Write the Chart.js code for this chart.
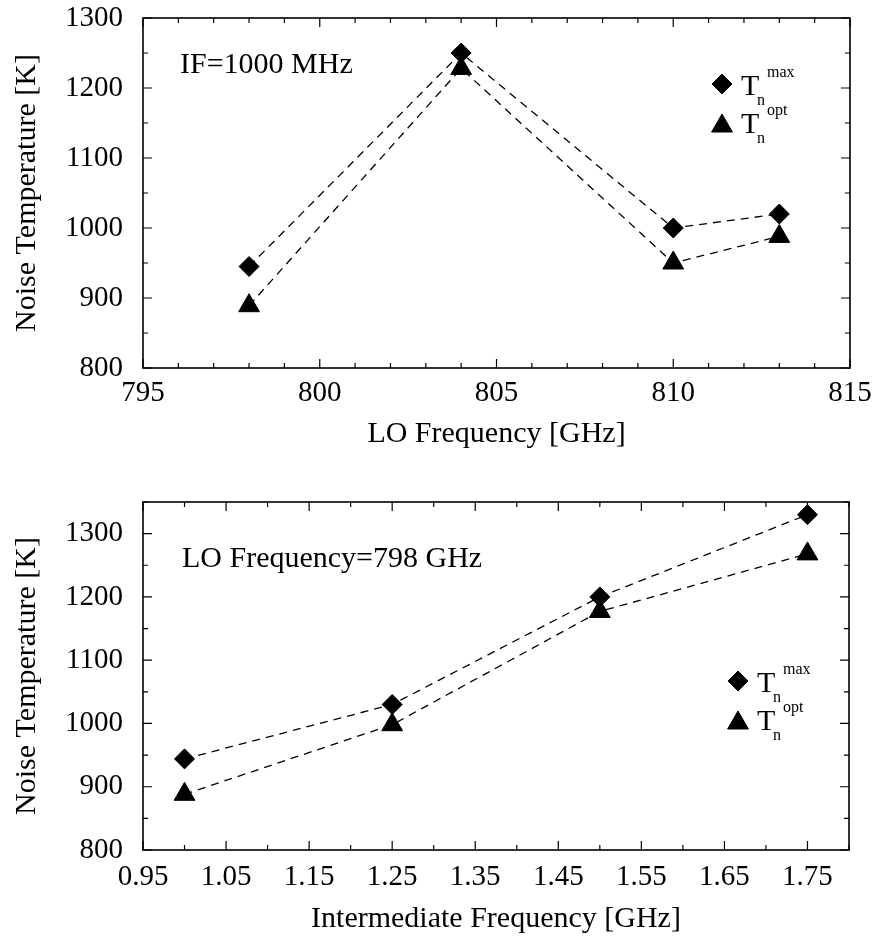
<!DOCTYPE html>
<html lang="en">
<head>
<meta charset="UTF-8">
<title>Noise Temperature vs LO and IF Frequency</title>
<script src="https://cdn.jsdelivr.net/npm/chart.js@4.4.1/dist/chart.umd.min.js"></script>
<style>
    body { margin: 0; background: #fff; }
    canvas { display: block; }
</style>
</head>
<body>
<canvas id="loChart" width="877" height="470"></canvas>
<canvas id="ifChart" width="877" height="468"></canvas>
<script>
// top plot: LO sweep at IF = 1000 MHz
const loFreq = [798, 804, 810, 813];
const loTmax = [945, 1250, 1000, 1020];
const loTopt = [889, 1228, 950, 988];

// bottom plot: IF sweep at LO = 798 GHz
const ifFreq = [1.00, 1.25, 1.50, 1.75];
const ifTmax = [944, 1030, 1200, 1330];
const ifTopt = [888, 998, 1177, 1268];

// tick labels
const loTicks = [795, 800, 805, 810, 815];
const ifTicks = [0.95, 1.05, 1.15, 1.25, 1.35, 1.45, 1.55, 1.65, 1.75];
const tempTicks = [800, 900, 1000, 1100, 1200, 1300];

const legendSup = ['max', 'opt'];

const serif = "'Liberation Serif', 'Times New Roman', serif";

// box round the plot area, inward ticks on all four sides
const framePlugin = {
    id: 'frame',
    beforeDatasetsDraw(chart, args, o) {
        const { ctx, chartArea: a, scales: { x, y } } = chart;
        ctx.save();
        ctx.strokeStyle = '#000';
        ctx.lineWidth = 1.2;
        ctx.beginPath();
        for (let i = 0; x.min + i * o.xStep <= x.max + 1e-9; i++) {
            const px = x.getPixelForValue(x.min + i * o.xStep);
            const len = i % o.xEvery === 0 ? 9 : 5;
            ctx.moveTo(px, a.bottom); ctx.lineTo(px, a.bottom - len);
            ctx.moveTo(px, a.top); ctx.lineTo(px, a.top + len);
        }
        for (let i = 0; y.min + i * o.yStep <= y.max + 1e-9; i++) {
            const py = y.getPixelForValue(y.min + i * o.yStep);
            const len = i % o.yEvery === 0 ? 9 : 5;
            ctx.moveTo(a.left, py); ctx.lineTo(a.left + len, py);
            ctx.moveTo(a.right, py); ctx.lineTo(a.right - len, py);
        }
        ctx.stroke();
        ctx.lineWidth = 1.6;
        ctx.strokeRect(a.left, a.top, a.right - a.left, a.bottom - a.top);
        ctx.restore();
    }
};

// note text and the legend with sub/superscripts
const notePlugin = {
    id: 'note',
    afterDraw(chart, args, o) {
        const ctx = chart.ctx;
        ctx.save();
        ctx.fillStyle = '#000';
        ctx.strokeStyle = '#000';
        ctx.textAlign = 'left';
        ctx.textBaseline = 'alphabetic';
        ctx.font = '30px ' + serif;
        ctx.fillText(o.text, o.textX, o.textY);

        chart.data.datasets.forEach((ds, i) => {
            const base = o.keyY[i];
            const markY = ds.pointStyle === 'triangle' ? base - 7 : base - 11;
            Chart.helpers.drawPoint(ctx, {
                pointStyle: ds.pointStyle, radius: ds.pointRadius, borderWidth: 1, rotation: 0
            }, o.keyX, markY);
            const tx = o.keyX + 19;
            ctx.font = '30px ' + serif;
            ctx.fillText('T', tx, base);
            ctx.font = '16px ' + serif;
            ctx.fillText('n', tx + 16, base + 10);
            ctx.fillText(legendSup[i], tx + 26, base - 18);
        });
        ctx.restore();
    }
};

function series(label, xs, ys, style, radius) {
    return {
        label: label,
        data: xs.map((v, i) => ({ x: v, y: ys[i] })),
        pointStyle: style,
        pointRadius: radius,
        pointBorderWidth: 1,
        borderColor: '#000',
        backgroundColor: '#000',
        borderWidth: 1.3,
        borderDash: [8, 6],
        fill: false,
        tension: 0,
        clip: false
    };
}

function buildOptions(c) {
    const tickFont = { family: serif, size: 29 };
    const titleFont = { family: serif, size: 30 };
    return {
        responsive: false,
        animation: false,
        devicePixelRatio: 1,
        layout: { padding: { top: c.top, right: c.right, left: 0, bottom: 0 } },
        plugins: {
            legend: { display: false },
            tooltip: { enabled: false },
            frame: c.frame,
            note: c.note
        },
        scales: {
            x: {
                type: 'linear',
                min: c.xMin,
                max: c.xMax,
                afterFit: s => {
                    s.height = c.xHeight;
                    s.paddingLeft = 0; s.paddingRight = 0;
                },
                afterBuildTicks: s => { s.ticks = c.xTicks.map(v => ({ value: v })); },
                grid: { display: false, drawTicks: false },
                border: { display: false },
                ticks: {
                    font: tickFont, color: '#000', padding: c.xPad,
                    maxRotation: 0, autoSkip: false, callback: c.xFmt
                },
                title: {
                    display: true, text: c.xTitle, font: titleFont, color: '#000',
                    padding: { top: 0, bottom: c.xTitlePad }
                }
            },
            y: {
                type: 'linear',
                min: c.yMin,
                max: c.yMax,
                afterFit: s => {
                    s.width = 143;
                    s.paddingTop = 0; s.paddingBottom = 0;
                },
                afterBuildTicks: s => { s.ticks = tempTicks.map(v => ({ value: v })); },
                grid: { display: false, drawTicks: false },
                border: { display: false },
                ticks: {
                    font: tickFont, color: '#000', padding: 20, autoSkip: false,
                    callback: v => String(v)
                },
                title: {
                    display: true, text: 'Noise Temperature [K]', font: titleFont, color: '#000',
                    padding: { top: 9, bottom: 0 }
                }
            }
        }
    };
}

new Chart(document.getElementById('loChart'), {
    type: 'line',
    data: {
        datasets: [
            series('Tn max', loFreq, loTmax, 'rectRot', 10),
            series('Tn opt', loFreq, loTopt, 'triangle', 12)
        ]
    },
    options: buildOptions({
        top: 18, right: 27, xHeight: 102, xPad: 8, xTitlePad: 18,
        xMin: 795, xMax: 815, yMin: 800, yMax: 1300,
        xTicks: loTicks, xFmt: v => String(v),
        xTitle: 'LO Frequency [GHz]',
        frame: { xStep: 1, xEvery: 5, yStep: 50, yEvery: 2 },
        note: { text: 'IF=1000 MHz', textX: 180, textY: 73, keyX: 722, keyY: [95, 133] }
    }),
    plugins: [framePlugin, notePlugin]
});

new Chart(document.getElementById('ifChart'), {
    type: 'line',
    data: {
        datasets: [
            series('Tn max', ifFreq, ifTmax, 'rectRot', 10),
            series('Tn opt', ifFreq, ifTopt, 'triangle', 12)
        ]
    },
    options: buildOptions({
        top: 32, right: 28, xHeight: 88, xPad: 10, xTitlePad: 1,
        xMin: 0.95, xMax: 1.80, yMin: 800, yMax: 1350,
        xTicks: ifTicks, xFmt: v => v.toFixed(2),
        xTitle: 'Intermediate Frequency [GHz]',
        frame: { xStep: 0.05, xEvery: 2, yStep: 50, yEvery: 2 },
        note: { text: 'LO Frequency=798 GHz', textX: 182, textY: 97, keyX: 738, keyY: [222, 260] }
    }),
    plugins: [framePlugin, notePlugin]
});
</script>
</body>
</html>
